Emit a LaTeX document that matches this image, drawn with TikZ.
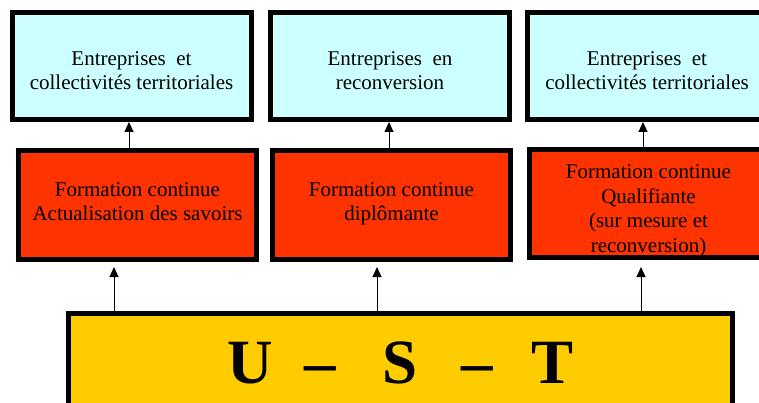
\documentclass[tikz,border=0pt]{standalone}
\usepackage{fontspec}
\setmainfont{Liberation Serif}
\usetikzlibrary{arrows.meta,calc}
\definecolor{boxcyan}{HTML}{CCFFFF}
\definecolor{boxred}{HTML}{FF3300}
\definecolor{boxyellow}{HTML}{FFCC00}
\begin{document}
\begin{tikzpicture}[x=1pt,y=-1pt,
  basebox/.style={draw=black,line width=5pt,align=center,inner sep=0pt,
    font=\fontsize{21}{24.5}\selectfont},
  tbox/.style={basebox,fill=boxcyan,minimum width=239pt,minimum height=107pt},
  rbox/.style={basebox,fill=boxred,minimum width=238pt,minimum height=109pt},
  ybox/.style={basebox,fill=boxyellow,minimum width=664pt,minimum height=97pt,
    font=\fontsize{63}{70}\selectfont\bfseries,text height=42pt,text depth=0pt},
  arr/.style={line width=1pt,draw=black,-{Triangle[width=9pt,length=10pt]}}]
\useasboundingbox (0,0) rectangle (759,403);
\clip (0,0) rectangle (759,403);

% top boxes
\node[tbox,text height=48pt,text depth=0pt] (T1) at (131.5,66) {Entreprises\ \ et\\collectivités territoriales};
\node[tbox,text height=48pt,text depth=0pt] (T2) at (390,66) {Entreprises\ \ en\\reconversion};
\node[tbox,text height=48pt,text depth=0pt] (T3) at (647,66) {Entreprises\ \ et\\collectivités territoriales};

% red boxes
\node[rbox,text height=32pt,text depth=0pt] (R1) at (137.5,205) {Formation continue\\Actualisation des savoirs};
\node[rbox,text height=32pt,text depth=0pt] (R2) at (391.5,205) {Formation continue\\diplômante};
\node[rbox,minimum height=108pt,text height=97pt,text depth=0pt] (R3) at (648.5,203.5) {Formation continue\\Qualifiante\\(sur mesure et\\reconversion)};

% yellow box
\node[ybox] (Y) at (400.5,362) {U\hspace{31pt}–\hspace{47pt}S\hspace{44pt}–\hspace{38pt}T};

% arrows red -> top
\path (R1.north) ++(-8.5,0) coordinate (r1top);
\path (R2.north) ++(-2.5,0) coordinate (r2top);
\path (R3.north) ++(-5.5,0) coordinate (r3top);
\draw[arr] (r1top) -- (r1top |- T1.south);
\draw[arr] (r2top) -- (r2top |- T2.south);
\draw[arr] (r3top) -- (r3top |- T3.south);

% arrows yellow -> red
\path (R1.south) ++(-23.5,5) coordinate (b1);
\path (R2.south) ++(-14.5,5) coordinate (b2);
\path (R3.south) ++(-7.5,7) coordinate (b3);
\draw[arr] (b1 |- Y.north) -- (b1);
\draw[arr] (b2 |- Y.north) -- (b2);
\draw[arr] (b3 |- Y.north) -- (b3);
\end{tikzpicture}
\end{document}
